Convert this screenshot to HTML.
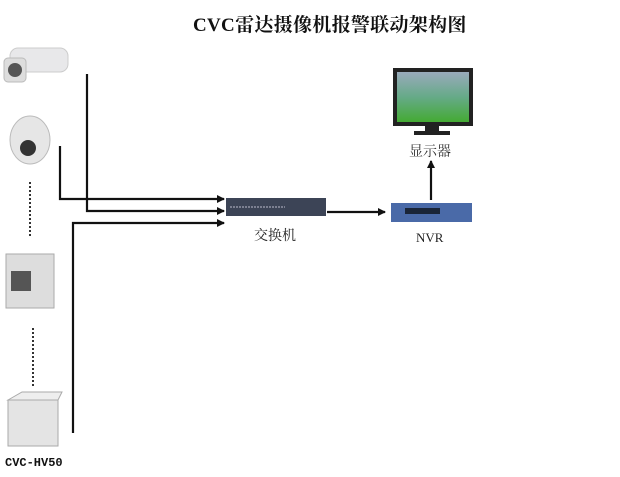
<!DOCTYPE html>
<html><head><meta charset="utf-8"><style>
body{margin:0;width:620px;height:477px;background:#fff;overflow:hidden;position:relative;font-family:"Liberation Serif","Noto Serif CJK SC",serif}
.t{position:absolute;white-space:nowrap}
</style></head><body>
<div class="t" style="left:193px;top:10px;font-size:19px;font-weight:bold;color:#111;letter-spacing:0.3px">CVC雷达摄像机报警联动架构图</div>
<svg width="620" height="477" style="position:absolute;left:0;top:0">
<defs><marker id="a" markerWidth="8" markerHeight="8" refX="7" refY="4" orient="auto" markerUnits="userSpaceOnUse"><path d="M0,0L8,4L0,8z" fill="#111"/></marker>
<linearGradient id="g" x1="0" y1="0" x2="0" y2="1"><stop offset="0" stop-color="#9ab"/><stop offset=".5" stop-color="#6a8"/><stop offset="1" stop-color="#4a3"/></linearGradient></defs>
<rect x="10" y="48" width="58" height="24" rx="8" fill="#e8e8ea" stroke="#ccc"/>
<rect x="4" y="58" width="22" height="24" rx="4" fill="#ddd" stroke="#bbb"/>
<circle cx="15" cy="70" r="7" fill="#555"/>
<ellipse cx="30" cy="140" rx="20" ry="24" fill="#e6e6e6" stroke="#bbb"/>
<circle cx="28" cy="148" r="8" fill="#333"/>
<line x1="30" y1="182" x2="30" y2="236" stroke="#333" stroke-width="2" stroke-dasharray="2,2"/>
<rect x="6" y="254" width="48" height="54" fill="#ddd" stroke="#aaa"/>
<rect x="11" y="271" width="20" height="20" fill="#555"/>
<line x1="33" y1="328" x2="33" y2="386" stroke="#333" stroke-width="2" stroke-dasharray="2,2"/>
<rect x="8" y="400" width="50" height="46" fill="#e4e4e4" stroke="#aaa"/>
<polygon points="8,400 22,392 62,392 58,400" fill="#eee" stroke="#aaa"/>
<g stroke="#111" stroke-width="2.2" fill="none">
<polyline points="87,74 87,211 224,211" marker-end="url(#a)"/>
<polyline points="60,146 60,199 224,199" marker-end="url(#a)"/>
<polyline points="73,433 73,223 224,223" marker-end="url(#a)"/>
<line x1="327" y1="212" x2="385" y2="212" marker-end="url(#a)"/>
<line x1="431" y1="200" x2="431" y2="161" marker-end="url(#a)"/>
</g>
<rect x="226" y="198" width="100" height="18" fill="#3c4456"/>
<line x1="230" y1="207" x2="285" y2="207" stroke="#bbc" stroke-dasharray="2,1"/>
<rect x="391" y="203" width="81" height="19" fill="#4a6aa8"/>
<rect x="405" y="208" width="35" height="6" fill="#1a2538"/>
<rect x="393" y="68" width="80" height="58" fill="#222"/>
<rect x="397" y="72" width="72" height="50" fill="url(#g)"/>
<rect x="425" y="126" width="14" height="6" fill="#222"/>
<rect x="414" y="131" width="36" height="4" fill="#222"/>
</svg>
<div class="t" style="left:409px;top:141px;font-size:14px;color:#333">显示器</div>
<div class="t" style="left:254px;top:225px;font-size:14px;color:#222">交换机</div>
<div class="t" style="left:416px;top:230px;font-size:13px;color:#222">NVR</div>
<div class="t" style="left:5px;top:456px;font-size:12px;font-weight:bold;font-family:'Liberation Mono',monospace;color:#111">CVC-HV50</div>
</body></html>
